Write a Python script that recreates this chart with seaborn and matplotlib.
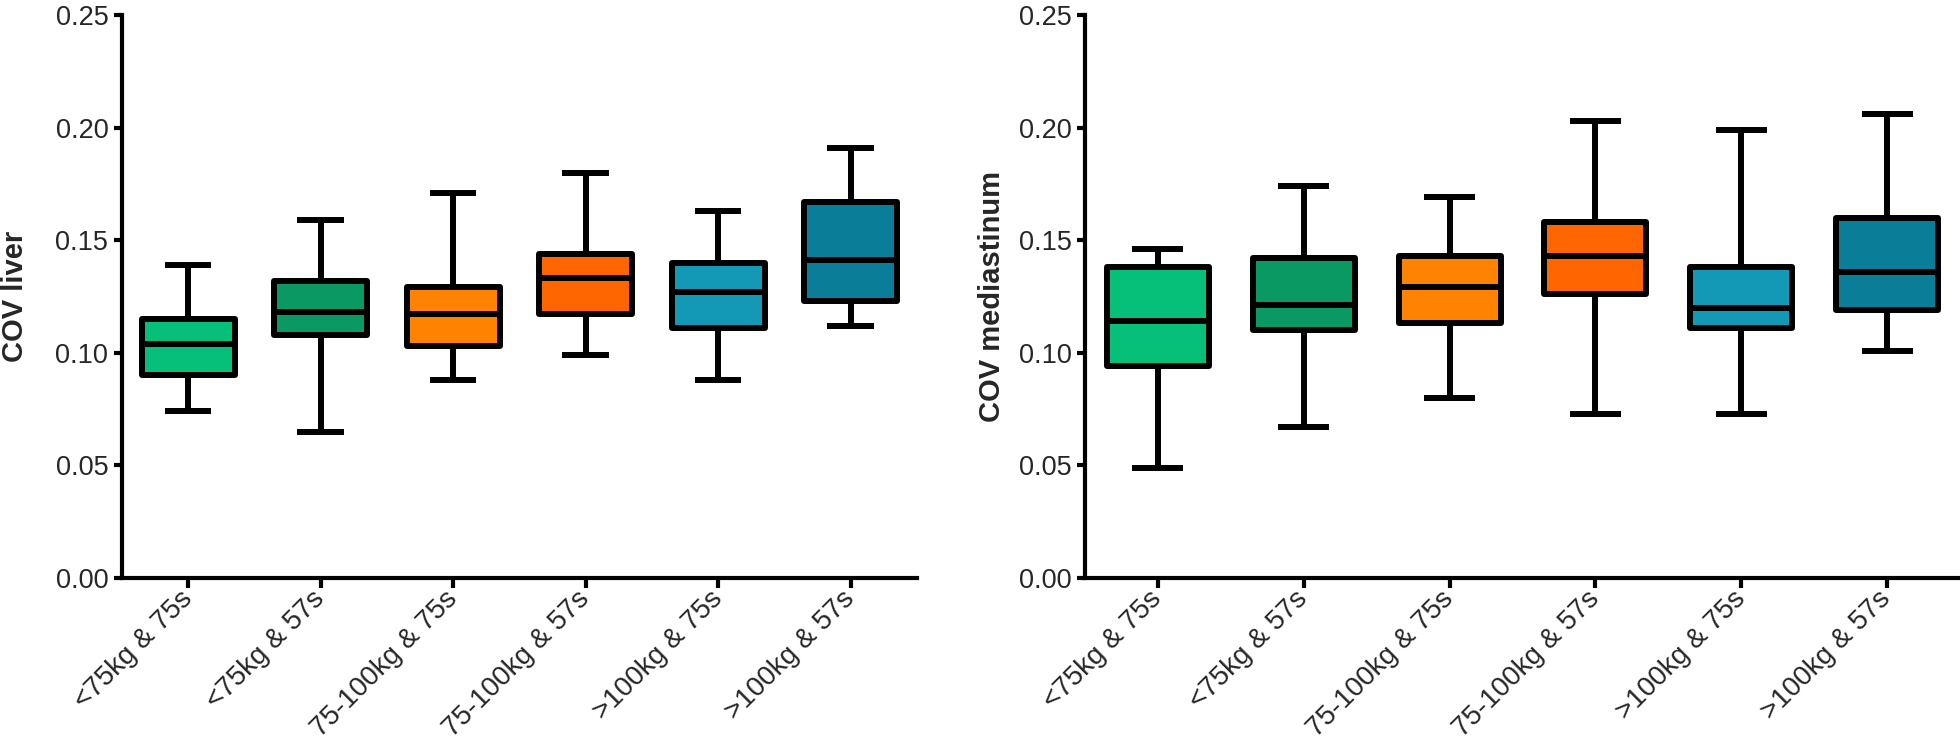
import numpy as np
import pandas as pd
import matplotlib
matplotlib.use("Agg")
import matplotlib.pyplot as plt
import seaborn as sns

# Groups (weight class & acquisition time per bed position)
groups = ["<75kg & 75s", "<75kg & 57s", "75-100kg & 75s",
          "75-100kg & 57s", ">100kg & 75s", ">100kg & 57s"]
colors = ["#06C07A", "#0B9963", "#FF8200", "#FF6600", "#1399B6", "#0A7E99"]

# COV liver: min, Q1, median, Q3, max
liver_min = [0.074, 0.065, 0.088, 0.099, 0.088, 0.112]
liver_q1 = [0.090, 0.108, 0.103, 0.117, 0.111, 0.123]
liver_med = [0.104, 0.118, 0.117, 0.133, 0.127, 0.141]
liver_q3 = [0.115, 0.132, 0.129, 0.144, 0.140, 0.167]
liver_max = [0.139, 0.159, 0.171, 0.180, 0.163, 0.191]

# COV mediastinum
med_min = [0.049, 0.067, 0.080, 0.073, 0.073, 0.101]
med_q1 = [0.094, 0.110, 0.113, 0.126, 0.111, 0.119]
med_med = [0.114, 0.121, 0.129, 0.143, 0.120, 0.136]
med_q3 = [0.138, 0.142, 0.143, 0.158, 0.138, 0.160]
med_max = [0.146, 0.174, 0.169, 0.203, 0.199, 0.206]


def long_table(mins, q1s, meds, q3s, maxs):
    # five points per group reproduce the quartiles exactly
    rows = []
    for g, a, b, c, d, e in zip(groups, mins, q1s, meds, q3s, maxs):
        for v in (a, b, c, d, e):
            rows.append({"group": g, "cov": v})
    return pd.DataFrame(rows)


liver = long_table(liver_min, liver_q1, liver_med, liver_q3, liver_max)
medias = long_table(med_min, med_q1, med_med, med_q3, med_max)

sns.set_style("ticks")
plt.rcParams["font.family"] = ["Liberation Sans", "DejaVu Sans"]

fig = plt.figure(figsize=(19.6, 7.48), dpi=100)
ax1 = fig.add_axes([0.0622, 0.2273, 0.4056, 0.7527])
ax2 = fig.add_axes([0.5536, 0.2273, 0.4464, 0.7527])

lw = 4.3
line_kw = dict(color="black", linewidth=lw, solid_capstyle="butt")
yticks = np.arange(0, 0.2501, 0.05)

for ax, df, ylab, labx in [(ax1, liver, "COV liver", -0.117),
                           (ax2, medias, "COV mediastinum", -0.090)]:
    sns.boxplot(data=df, x="group", y="cov", hue="group", palette=colors,
                order=groups, hue_order=groups, legend=False, whis=(0, 100),
                width=0.70, linewidth=lw, linecolor="black", saturation=1,
                showfliers=False, ax=ax,
                medianprops=line_kw, whiskerprops=line_kw, capprops=line_kw,
                boxprops=dict(edgecolor="black", linewidth=lw, joinstyle="round"))
    ax.set_xlim(-0.5, 5.5)
    ax.set_ylim(0, 0.25)
    ax.set_yticks(yticks)
    ax.set_yticklabels([f"{t:.2f}" for t in yticks], fontsize=19.5)
    ax.set_xticks(range(len(groups)))
    ax.set_xticklabels(groups, rotation=45, ha="right", va="center",
                       rotation_mode="anchor", fontsize=20)
    ax.set_xlabel("")
    ax.set_ylabel(ylab, fontsize=21, fontweight="bold")
    ax.yaxis.set_label_coords(labx, 0.5)
    ax.tick_params(axis="both", width=3, color="black")
    ax.tick_params(axis="x", length=7.5, pad=5)
    ax.tick_params(axis="y", length=5.5, pad=4.3)
    for side in ("left", "bottom"):
        ax.spines[side].set_linewidth(3)
        ax.spines[side].set_color("black")
    ax.spines["top"].set_visible(False)
    ax.spines["right"].set_visible(False)

fig.savefig("out.png", dpi=100, facecolor="white")
